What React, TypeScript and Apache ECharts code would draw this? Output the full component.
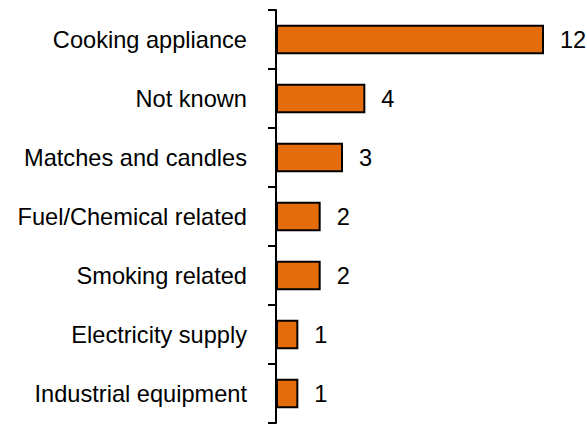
import React, { useEffect, useRef } from "react";
import * as echarts from "echarts";

const categories = [
  "Cooking appliance",
  "Not known",
  "Matches and candles",
  "Fuel/Chemical related",
  "Smoking related",
  "Electricity supply",
  "Industrial equipment",
];
const values = [12, 4, 3, 2, 2, 1, 1];

export default function App() {
  const ref = useRef<HTMLDivElement>(null);
  useEffect(() => {
    if (!ref.current) return;
    const chart = echarts.init(ref.current, null, { renderer: "svg" });
    const font = "'Liberation Sans', Arial, sans-serif";
    chart.setOption({
      animation: false,
      backgroundColor: "#ffffff",
      grid: { left: 276, right: 43, top: 10, bottom: 1, containLabel: false },
      xAxis: {
        type: "value",
        min: 0,
        max: 12,
        show: false,
      },
      yAxis: {
        type: "category",
        inverse: true,
        data: categories,
        axisLine: { show: true, lineStyle: { color: "#000", width: 2 } },
        axisTick: { show: true, length: 8, lineStyle: { color: "#000", width: 2 } },
        axisLabel: {
          margin: 29,
          fontSize: 23.6,
          fontFamily: font,
          color: "#000",
          padding: [4, 0, 0, 0],
        },
      },
      series: [
        {
          type: "bar",
          data: values,
          barCategoryGap: "50%",
          itemStyle: { color: "#E46C0A", borderColor: "#000", borderWidth: 2 },
          label: {
            show: true,
            position: "right",
            distance: 16,
            fontSize: 23.6,
            fontFamily: font,
            color: "#000",
            padding: [4, 0, 0, 0],
          },
        },
      ],
    });
    return () => chart.dispose();
  }, []);
  return <div ref={ref} style={{ width: 587, height: 424, position: "absolute", left: 0, top: 0 }} />;
}
